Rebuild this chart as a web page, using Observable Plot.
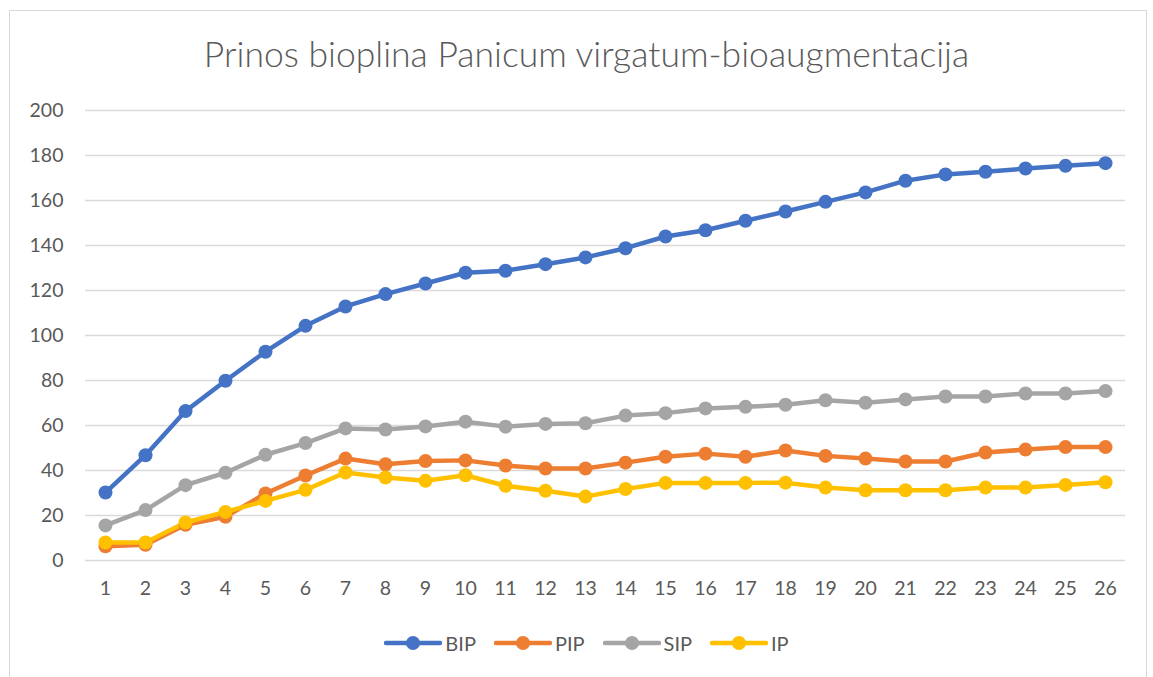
<!DOCTYPE html>
<html>
<head>
<meta charset="utf-8">
<script src="https://cdn.jsdelivr.net/npm/d3@7"></script>
<script src="https://cdn.jsdelivr.net/npm/@observablehq/plot@0.6"></script>
<style>
  html, body { margin: 0; padding: 0; background: #fff; }
  body { width: 1153px; height: 677px; position: relative; overflow: hidden; font-family: Lato, "Open Sans", sans-serif; }
  #frame { position: absolute; left: 9px; top: 10px; width: 1138px; height: 700px; border: 1px solid #d9d9d9; box-sizing: border-box; }
  #title { position: absolute; left: 0; top: 32px; width: 1173px; text-align: center; font-size: 35.5px; font-weight: 300; color: #595959; line-height: 44px; }
  #chart { position: absolute; left: 0; top: 90px; }
  #legend { position: absolute; left: 0; top: 631px; width: 1173px; display: flex; justify-content: center; gap: 18px; font-size: 20px; color: #595959; }
  .item { display: flex; align-items: center; }
  .item svg { margin-right: 3px; }
</style>
</head>
<body>
<div id="frame"></div>
<div id="title">Prinos bioplina Panicum virgatum-bioaugmentacija</div>
<div id="chart"></div>
<div id="legend"></div>
<script>
const days = [1,2,3,4,5,6,7,8,9,10,11,12,13,14,15,16,17,18,19,20,21,22,23,24,25,26];
const seriesNames = ["BIP", "PIP", "SIP", "IP"];
const colors = ["#4472C4", "#ED7D31", "#A5A5A5", "#FFC000"];
const BIP = [30.2,46.8,66.4,79.9,92.8,104.3,112.9,118.4,123.1,127.9,128.8,131.7,134.7,138.8,144.0,146.8,151.0,155.1,159.4,163.6,168.8,171.6,172.8,174.2,175.4,176.6];
const PIP = [6.3,7.0,15.9,19.4,29.8,37.8,45.3,42.8,44.2,44.5,42.2,40.9,40.9,43.5,46.1,47.5,46.1,48.9,46.5,45.3,44.0,44.0,48.0,49.3,50.4,50.4];
const SIP = [15.6,22.4,33.5,39.0,47.0,52.2,58.7,58.2,59.6,61.7,59.5,60.7,61.0,64.4,65.5,67.6,68.3,69.2,71.2,70.1,71.6,72.9,72.9,74.2,74.2,75.3];
const IP  = [8.0,8.0,16.9,21.6,26.5,31.4,39.1,36.9,35.4,37.9,33.2,31.0,28.4,31.8,34.5,34.5,34.5,34.6,32.4,31.2,31.2,31.2,32.4,32.4,33.6,34.8];
const yTicks = [0,20,40,60,80,100,120,140,160,180,200];

const valuesBySeries = [BIP, PIP, SIP, IP];
const data = [];
seriesNames.forEach((s, i) => {
  days.forEach((d, j) => data.push({series: s, day: d, value: valuesBySeries[i][j]}));
});

const plot = Plot.plot({
  width: 1153,
  height: 515,
  marginLeft: 85,
  marginRight: 28,
  marginTop: 20,
  marginBottom: 45,
  style: {fontFamily: "Lato, 'Open Sans', sans-serif", fontSize: "19.5px", color: "#595959", background: "transparent"},
  x: {type: "linear", domain: [0.5, 26.5], ticks: days, tickFormat: d => String(d), label: null},
  y: {domain: [0, 200], ticks: yTicks, label: null},
  color: {domain: seriesNames, range: colors},
  marks: [
    Plot.gridY(yTicks, {stroke: "#d9d9d9", strokeOpacity: 1, strokeWidth: 1.5}),
    Plot.axisY({ticks: yTicks, tickSize: 0, tickPadding: 22, fill: "#595959", fontSize: 19.5, label: null}),
    Plot.axisX({ticks: days, tickSize: 0, tickPadding: 21, fill: "#595959", fontSize: 19.5, label: null, tickFormat: d => String(d)}),
    ...seriesNames.map(s => Plot.line(data.filter(d => d.series === s), {x: "day", y: "value", stroke: "series", strokeWidth: 4.5, strokeLinejoin: "round", strokeLinecap: "round"})),
    ...seriesNames.map(s => Plot.dot(data.filter(d => d.series === s), {x: "day", y: "value", fill: "series", r: 7, stroke: "none"}))
  ]
});
document.getElementById("chart").appendChild(plot);

const legend = document.getElementById("legend");
seriesNames.forEach((s, i) => {
  const item = document.createElement("div");
  item.className = "item";
  item.innerHTML = `<svg width="58" height="22"><line x1="2" y1="11" x2="56" y2="11" stroke="${colors[i]}" stroke-width="4.5" stroke-linecap="round"/><circle cx="29" cy="11" r="7" fill="${colors[i]}"/></svg><span>${s}</span>`;
  legend.appendChild(item);
});
</script>
</body>
</html>
